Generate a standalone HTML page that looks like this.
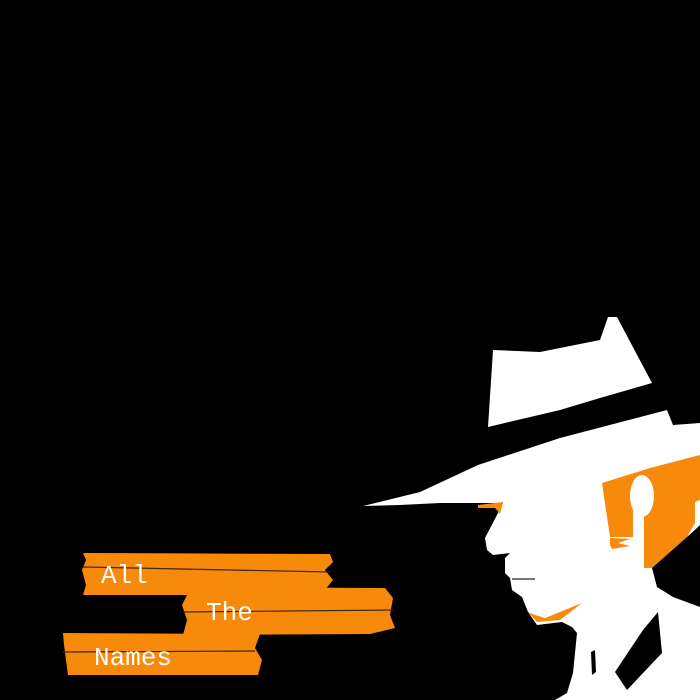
<!DOCTYPE html>
<html><head><meta charset="utf-8"><style>
html,body{margin:0;padding:0;background:#000;width:700px;height:700px;overflow:hidden}
svg{display:block}
text{font-family:"Liberation Mono",monospace;fill:#fff;font-size:26px}
</style></head><body>
<svg width="700" height="700" viewBox="0 0 700 700">
<rect width="700" height="700" fill="#000"/>
<!-- hat crown -->
<polygon fill="#fff" points="493,350 540,352 600,340 608,317 617,317 652,383 600,398 560,410 488,427"/>
<!-- brim + face + neck white -->
<polygon fill="#fff" points="363,506 420,492 478,465 560,438 667,410 673,425 700,423 700,700 555,700 567,693 573,673 577,633 572,627 562,622 537,625 528,612 522,597 512,590 510,578 505,573 505,558 510,553 493,555 487,550 485,538 497,515 503,503 440,503 400,505"/>
<!-- hair orange -->
<polygon fill="#f7890b" points="602,483 650,468 700,455 700,500 695,502 695,523 687,537 652,568 642,568 642,540 633,540 633,537 610,537"/>
<ellipse cx="642" cy="496" rx="12" ry="21" fill="#fff"/>
<rect x="633" y="505" width="11" height="65" fill="#fff"/>
<polygon fill="#f7890b" points="610,538 630,539 618,543 630,546 612,549 610,545"/>
<!-- back of neck black -->
<polygon fill="#000" points="652,568 687,537 697,528 700,525 700,607 673,597 657,587"/>
<!-- collar -->
<polygon fill="#000" points="658,612 662,653 627,690 615,672 643,630"/>
<polygon fill="#000" points="591,652 595,650 596,672 592,675"/>
<!-- small orange bits -->
<polygon fill="#f7890b" points="478,505 503,502 500,514 495,508 478,508"/>
<polygon fill="#f7890b" points="528,612 537,622 560,620 582,603 560,612 545,618 535,615"/>
<line x1="512" y1="579" x2="535" y2="579" stroke="#222" stroke-width="1.3"/>
<!-- banners -->
<polygon fill="#f7890b" points="83,553 330,554 333,562 325,570 333,580 325,590 300,595 83,595 86,585 82,570 86,560"/>
<polygon fill="#f7890b" points="183,587 385,588 393,598 390,615 395,628 370,634 183,635 187,620 182,605 187,595"/>
<polygon fill="#f7890b" points="63,633 260,634 255,648 262,660 258,675 68,675 66,660 64,645"/>
<line x1="83" y1="567" x2="330" y2="572" stroke="#3a2a1a" stroke-width="1.2"/>
<line x1="183" y1="612" x2="393" y2="610" stroke="#3a2a1a" stroke-width="1.2"/>
<line x1="63" y1="652" x2="255" y2="651" stroke="#3a2a1a" stroke-width="1.2"/>
<text x="101" y="583">All</text>
<text x="206" y="620">The</text>
<text x="94" y="665">Names</text>
</svg>
</body></html>
